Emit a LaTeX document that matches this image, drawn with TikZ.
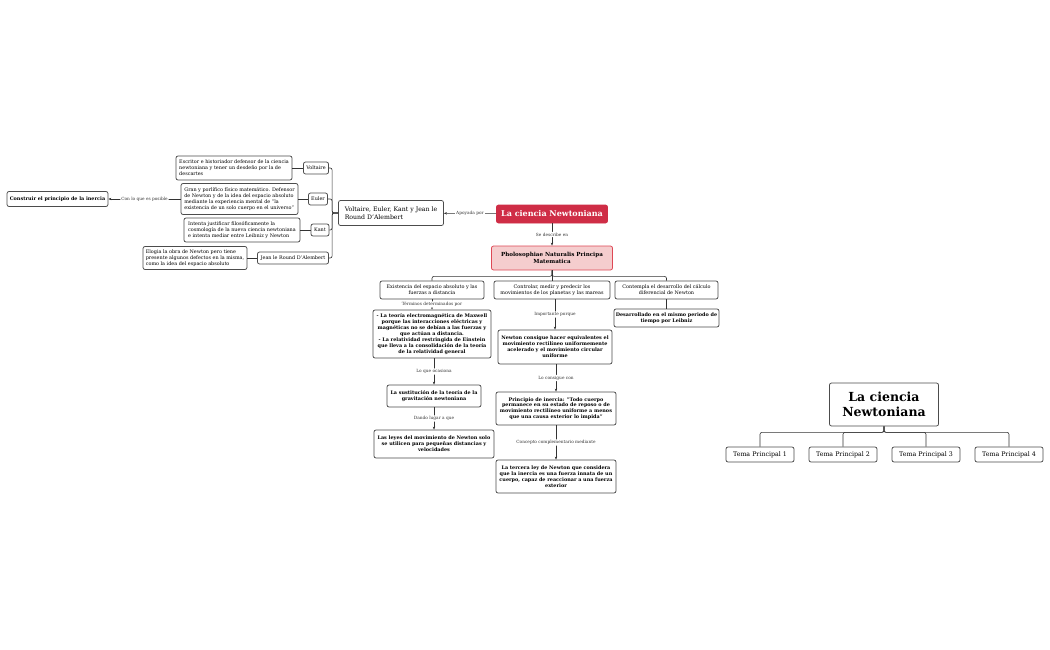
\documentclass[tikz,border=0pt]{standalone}
\usepackage{fontspec}
\setmainfont{DejaVu Serif}
\usetikzlibrary{arrows.meta}
\definecolor{rootred}{RGB}{207,45,70}
\definecolor{pinkfill}{RGB}{245,205,206}
\definecolor{pinkline}{RGB}{222,72,85}

\begin{document}
\begin{tikzpicture}[x=1pt,y=-1pt,
  box/.style={draw=black!70, line width=0.75pt, rounded corners=2pt, fill=white, align=center,
    inner sep=1.5pt, font=\fontsize{4.9}{5.9}\selectfont},
  boldbox/.style={box, font=\fontsize{4.9}{5.9}\selectfont\bfseries},
  lbl/.style={fill=white, inner sep=1pt, font=\fontsize{4.3}{5}\selectfont, text=black!80},
  arr/.style={-{Stealth[length=3pt,width=2.4pt]}},
  link/.style={draw=black!80, line width=0.6pt, rounded corners=2pt}]
  \useasboundingbox (0,0) rectangle (1050,650);

  % Central topic
  \node[box, draw=rootred, fill=rootred, text=white, minimum width=111, minimum height=18,
    font=\fontsize{8}{9}\selectfont\bfseries] (root) at (552,214) {La ciencia Newtoniana};

  % Supporters
  \node[box, align=left, minimum width=105, minimum height=25, font=\fontsize{6.2}{7.4}\selectfont]
    (group) at (391,213) {Voltaire, Euler, Kant y Jean le\\Round D'Alembert};
  \node[box, minimum width=25, minimum height=12] (voltaire) at (316,168) {Voltaire};
  \node[box, minimum width=19, minimum height=12] (euler) at (318,199) {Euler};
  \node[box, minimum width=18, minimum height=12] (kant) at (320,230) {Kant};
  \node[box, minimum width=71, minimum height=12] (jean) at (293,258) {Jean le Round D'Alembert};
  \node[box, align=left, minimum width=116, minimum height=24] (vdesc) at (234,168)
    {Escritor e historiador defensor de la ciencia\\newtoniana y tener un desdeño por la de\\descartes};
  \node[box, align=left, minimum width=117, minimum height=31] (edesc) at (239.5,199)
    {Gran y porlífico físico matemático. Defensor\\de Newton y de la idea del espacio absoluto\\mediante la experiencia mental de "la\\existencia de un solo cuerpo en el universo"};
  \node[box, align=left, minimum width=116, minimum height=24] (kdesc) at (242,230)
    {Intenta justificar filosóficamente la\\cosmología de la nueva ciencia newtoniana\\e intenta mediar entre Leibniz y Newton};
  \node[box, align=left, minimum width=104, minimum height=23] (jdesc) at (195,258)
    {Elogia la obra de Newton pero tiene\\presente algunos defectos en la misma,\\como la idea del espacio absoluto};
  \node[boldbox, minimum width=101, minimum height=15] (inercia) at (57.5,199)
    {Construir el principio de la inercia};

  \draw[link, arr] (root) -- node[lbl] {Apoyada por} (group);
  \coordinate (gj) at ([xshift=-6pt]group.west);
  \draw[link] (group.west) -- (gj) |- (voltaire.east);
  \draw[link] (group.west) -- (gj) |- (euler.east);
  \draw[link] (group.west) -- (gj) |- (kant.east);
  \draw[link] (group.west) -- (gj) |- (jean.east);
  \draw[link] (vdesc) -- (voltaire);
  \draw[link] (edesc) -- (euler);
  \draw[link] (kdesc) -- (kant);
  \draw[link] (jdesc) -- (jean);
  \draw[link, arr] (edesc) -- node[lbl] {Con lo que es posible} (inercia);

  % Principia
  \node[box, draw=pinkline, fill=pinkfill, minimum width=121, minimum height=24,
    font=\fontsize{5.6}{6.6}\selectfont\bfseries] (princ) at (552,258)
    {Pholosophiae Naturalis Principa\\Matematica};
  \draw[link, arr] (root) -- node[lbl] {Se describe en} (princ);

  \node[box, minimum width=104, minimum height=18] (exist) at (432,290)
    {Existencia del espacio absoluto y las\\fuerzas a distancia};
  \node[box, minimum width=116, minimum height=18] (contr) at (552,290)
    {Controlar, medir y predecir los\\movimientos de los planetas y las mareas};
  \node[box, minimum width=103, minimum height=18] (calc) at (666.5,290)
    {Contempla el desarrollo del cálculo\\diferencial de Newton};
  \draw[link] (princ.south) -- ++(0,6) -| (exist.north);
  \draw[link] (princ.south) -- (contr.north);
  \draw[link] (princ.south) -- ++(0,6) -| (calc.north);

  % Left column
  \node[boldbox, minimum width=118, minimum height=48] (maxw) at (432,334)
    {- La teoría electromagnética de Maxwell\\porque las interacciones eléctricas y\\magnéticas no se debían a las fuerzas y\\que actúan a distancia.\\- La relatividad restringida de Einstein\\que lleva a la consolidación de la teoría\\de la relatividad general};
  \node[boldbox, minimum width=94, minimum height=22] (sust) at (434,396)
    {La sustitución de la teoría de la\\gravitación newtoniana};
  \node[boldbox, minimum width=120, minimum height=28] (leyes) at (434,444)
    {Las leyes del movimiento de Newton solo\\se utilicen para pequeñas distancias y\\velocidades};
  \draw[link, arr] (exist) -- node[lbl] {Términos determinados por} (maxw);
  \draw[link, arr] (maxw.south -| sust) -- node[lbl] {Lo que ocasiona} (sust);
  \draw[link, arr] (sust) -- node[lbl] {Dando lugar a que} (leyes);

  % Middle column
  \node[boldbox, minimum width=114, minimum height=34] (equiv) at (555,347)
    {Newton consigue hacer equivalentes el\\movimiento rectilíneo uniformemente\\acelerado y el movimiento circular\\uniforme};
  \node[boldbox, minimum width=120, minimum height=33] (princi) at (556,408.5)
    {Principio de inercia: "Todo cuerpo\\permanece en su estado de reposo o de\\movimiento rectilíneo uniforme a menos\\que una causa exterior lo impida"};
  \node[boldbox, minimum width=120, minimum height=33] (terc) at (556,476.5)
    {La tercera ley de Newton que considera\\que la inercia es una fuerza innata de un\\cuerpo, capaz de reaccionar a una fuerza\\exterior};
  \draw[link, arr] (contr.south -| equiv) -- node[lbl] {Importante porque} (equiv);
  \draw[link, arr] (equiv.south -| princi) -- node[lbl] {Lo consigue con} (princi);
  \draw[link, arr] (princi) -- node[lbl] {Concepto complementario mediante} (terc);

  % Right column
  \node[boldbox, minimum width=105, minimum height=18] (leib) at (666.5,318)
    {Desarrollado en el mismo periodo de\\tiempo por Leibniz};
  \draw[link] (calc) -- (leib);

  % Second map
  \node[box, minimum width=109, minimum height=43, font=\fontsize{12.5}{15}\selectfont\bfseries]
    (title) at (884,404.5) {La ciencia\\Newtoniana};
  \foreach \i/\x in {1/760, 2/843, 3/926, 4/1009} {
    \node[box, minimum width=68, minimum height=15, font=\fontsize{6.3}{7.5}\selectfont]
      (tema\i) at (\x,454.5) {Tema Principal \i};
    \draw[link] (title.south) -- ++(0,6) -| (tema\i.north);
  }
\end{tikzpicture}
\end{document}
